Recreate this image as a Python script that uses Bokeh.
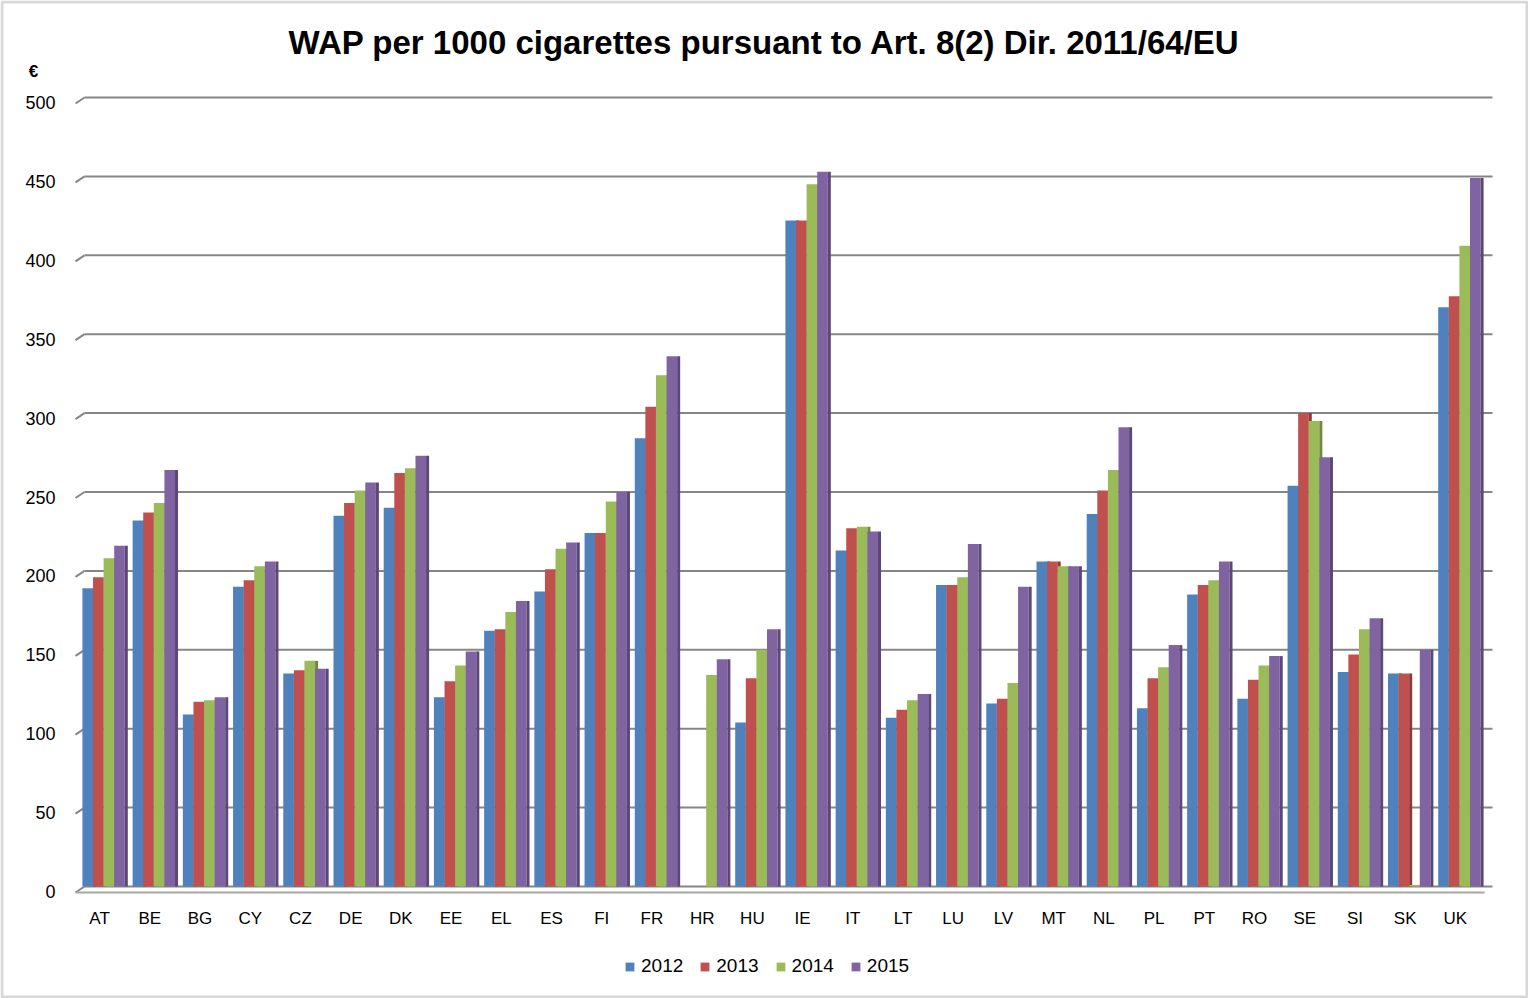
from bokeh.plotting import figure
from bokeh.models import ColumnDataSource, Range1d, Legend, LegendItem, Label, BoxAnnotation
from bokeh.core.properties import value
from bokeh.transform import dodge
from bokeh.embed import file_html
from bokeh.resources import INLINE

countries = ["AT", "BE", "BG", "CY", "CZ", "DE", "DK", "EE", "EL", "ES", "FI", "FR", "HR", "HU",
             "IE", "IT", "LT", "LU", "LV", "MT", "NL", "PL", "PT", "RO", "SE", "SI", "SK", "UK"]
wap_2012 = [189, 232, 109, 190, 135, 235, 240, 120, 162, 187, 224, 284, 0, 104,
            422, 213, 107, 191, 116, 206, 236, 113, 185, 119, 254, 136, 135, 367]
wap_2013 = [196, 237, 117, 194, 137, 243, 262, 130, 163, 201, 224, 304, 0, 132,
            422, 227, 112, 191, 119, 206, 251, 132, 191, 131, 300, 147, 135, 374]
wap_2014 = [208, 243, 118, 203, 143, 251, 265, 140, 174, 214, 244, 324, 134, 150,
            445, 228, 118, 196, 129, 203, 264, 139, 194, 140, 295, 163, 1, 406]
wap_2015 = [216, 264, 120, 206, 138, 256, 273, 149, 181, 218, 250, 336, 144, 163,
            453, 225, 122, 217, 190, 203, 291, 153, 206, 146, 272, 170, 150, 449]
years = ["2012", "2013", "2014", "2015"]
y_ticks = [0, 50, 100, 150, 200, 250, 300, 350, 400, 450, 500]
y_tick_labels = [str(t) for t in y_ticks]

face_colors = ["#4F81BD", "#C0504D", "#9BBB59", "#8064A2"]
side_colors = ["#385D8A", "#8C3836", "#71893F", "#5C4776"]
FONT = "Liberation Sans"

W, H = 1528, 998
# plot-area geometry in pixels (frame covers the whole canvas)
PX_LEFT, PX_RIGHT, PX_ZERO, PX_TOP = 78, 1484, 886, 97
n = len(countries)
cw = (PX_RIGHT - PX_LEFT) / n
ppu = (PX_ZERO - PX_TOP) / 500.0
x0 = -0.5 - PX_LEFT / cw
x1 = n - 0.5 + (W - PX_RIGHT) / cw
y0 = -(H - PX_ZERO) / ppu
y1 = PX_ZERO / ppu

idx = list(range(n))
source = ColumnDataSource(data=dict(idx=idx, country=countries, y2012=wap_2012, y2013=wap_2013,
                                    y2014=wap_2014, y2015=wap_2015))

p = figure(x_range=Range1d(x0, x1), y_range=Range1d(y0, y1), width=W, height=H,
           output_backend="svg", toolbar_location=None, x_axis_location=None, y_axis_location=None,
           min_border=0)
p.xgrid.grid_line_color = None
p.ygrid.grid_line_color = None
p.outline_line_color = None
p.background_fill_color = "white"

# gridlines on the back wall, with the short slanted stub at the left
gx0 = -0.5 + 6 / cw
gx1 = n - 0.5 + 8 / cw
stub_x = -0.5 - 3 / cw
stub_dy = 6 / ppu
grid_src = ColumnDataSource(data=dict(y=y_ticks, lab=y_tick_labels,
                                      ys=[t - stub_dy for t in y_ticks],
                                      yl=[t - 5 / ppu for t in y_ticks]))
p.segment(x0=gx0, x1=gx1, y0="y", y1="y", source=grid_src, line_color="#868686", line_width=2)
p.segment(x0=stub_x, x1=gx0, y0="ys", y1="y", source=grid_src, line_color="#868686", line_width=2)
# floor front edge
p.segment(x0=[stub_x], x1=[n - 0.5], y0=[-stub_dy], y1=[-stub_dy], line_color="#A6A6A6", line_width=2)

bw = 0.211
offsets = [-1.5 * bw, -0.5 * bw, 0.5 * bw, 1.5 * bw]
cols = ["y2012", "y2013", "y2014", "y2015"]
items = []
for i, c in enumerate(cols):
    r = p.vbar(x=dodge("idx", offsets[i]), top=c, bottom=0, width=bw,
               source=source, fill_color=face_colors[i], line_color=None)
    p.vbar(x=dodge("idx", offsets[i] + bw / 2 + 0.03), top=c, bottom=0, width=0.06,
           source=source, fill_color=side_colors[i], line_color=None)
    items.append(LegendItem(label=years[i], renderers=[r]))

# y tick labels
p.text(x=-0.5 - 23 / cw, y="yl", text="lab", source=grid_src, text_font=value(FONT),
       text_font_size="18px", text_align="right", text_baseline="middle", text_color="black")
# category labels
p.text(x=dodge("idx", -0.08), y=-(918 - PX_ZERO) / ppu, text="country", source=source,
       text_font=value(FONT), text_font_size="17px", text_align="center",
       text_baseline="middle", text_color="black")

legend = Legend(items=items, orientation="horizontal", location=(624, 21),
                label_text_font=FONT, label_text_font_size="19px", label_text_color="black",
                glyph_width=11, glyph_height=11, label_standoff=6, spacing=16,
                border_line_color=None, background_fill_alpha=0, padding=0, margin=0)
p.add_layout(legend)

title = Label(x=764, y=H - 42, x_units="screen", y_units="screen",
              text="WAP per 1000 cigarettes pursuant to Art. 8(2) Dir. 2011/64/EU",
              text_font=FONT, text_font_style="bold", text_font_size="33px", text_color="black",
              text_align="center", text_baseline="middle")
p.add_layout(title)
euro = Label(x=33, y=H - 71, x_units="screen", y_units="screen", text="€",
             text_font=FONT, text_font_style="bold", text_font_size="17px", text_color="black",
             text_align="center", text_baseline="middle")
p.add_layout(euro)

border = BoxAnnotation(left=1.5, right=W - 1.5, bottom=1.5, top=H - 1.5,
                       left_units="screen", right_units="screen", bottom_units="screen", top_units="screen",
                       fill_alpha=0, line_color="#7F7F7F", line_width=3)
p.add_layout(border)

open("out.html", "w").write(file_html(p, INLINE))
